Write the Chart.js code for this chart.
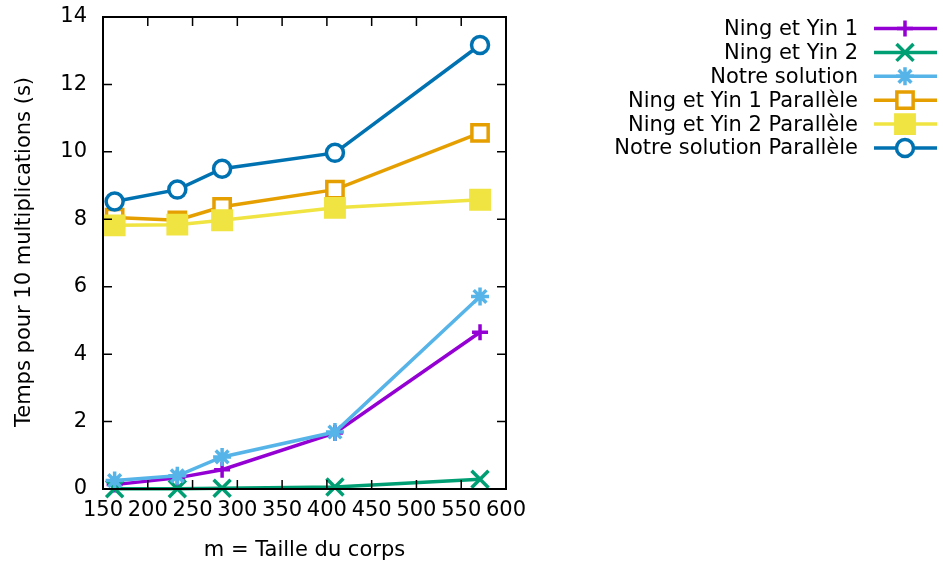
<!DOCTYPE html>
<html>
<head>
<meta charset="utf-8">
<script src="https://cdn.jsdelivr.net/npm/chart.js@4/dist/chart.umd.min.js"></script>
<style>
  html, body { margin: 0; padding: 0; background: #fff; }
  #wrap { width: 943px; height: 561px; position: relative; }
</style>
</head>
<body>
<div id="wrap"><canvas id="chart"></canvas></div>
<script>
// Taille du corps (m)
const fieldSizes = [163, 233, 283, 409, 571];

// Temps pour 10 multiplications (s)
const ningYin1 = [0.13, 0.33, 0.57, 1.66, 4.65];
const ningYin2 = [0.01, 0.01, 0.02, 0.06, 0.29];
const notreSolution = [0.25, 0.39, 0.95, 1.69, 5.71];
const ningYin1Par = [8.05, 7.97, 8.37, 8.88, 10.56];
const ningYin2Par = [7.82, 7.84, 7.97, 8.34, 8.58];
const notreSolutionPar = [8.53, 8.88, 9.50, 9.97, 13.17];

const seriesLabels = [
  'Ning et Yin 1',
  'Ning et Yin 2',
  'Notre solution',
  'Ning et Yin 1 Parallèle',
  'Ning et Yin 2 Parallèle',
  'Notre solution Parallèle'
];

const xTitle = 'm = Taille du corps';
const yTitle = 'Temps pour 10 multiplications (s)';

const FONT = '"DejaVu Sans", sans-serif';
const FS = 21;

const toPoints = (vals) => vals.map((v, i) => ({ x: fieldSizes[i], y: v }));

const makeSet = (i, vals, color, style, radius, fill) => ({
  label: seriesLabels[i],
  data: toPoints(vals),
  borderColor: color,
  backgroundColor: color,
  borderWidth: 3.5,
  pointStyle: style,
  pointRadius: radius,
  pointHoverRadius: radius,
  pointBorderWidth: 3.5,
  pointBackgroundColor: fill,
  pointBorderColor: color,
  tension: 0,
  fill: false,
  clip: false,
  order: 6 - i
});

const datasets = [
  makeSet(0, ningYin1, '#9400d3', 'cross', 8, '#9400d3'),
  makeSet(1, ningYin2, '#009e73', 'crossRot', 12, '#009e73'),
  makeSet(2, notreSolution, '#56b4e9', 'star', 9, '#56b4e9'),
  makeSet(3, ningYin1Par, '#e69f00', 'rect', 11.5, '#ffffff'),
  makeSet(4, ningYin2Par, '#f0e442', 'rect', 13, '#f0e442'),
  makeSet(5, notreSolutionPar, '#0072b2', 'circle', 8.5, '#ffffff')
];

// draw one marker like Chart.js does, for the key
function drawMarker(ctx, ds, x, y) {
  const r = ds.pointRadius;
  ctx.save();
  ctx.lineWidth = ds.pointBorderWidth;
  ctx.strokeStyle = ds.pointBorderColor;
  ctx.fillStyle = ds.pointBackgroundColor;
  ctx.beginPath();
  if (ds.pointStyle === 'circle') {
    ctx.arc(x, y, r, 0, Math.PI * 2);
    ctx.fill(); ctx.stroke();
  } else if (ds.pointStyle === 'rect') {
    const s = r * Math.SQRT1_2;
    ctx.rect(x - s, y - s, 2 * s, 2 * s);
    ctx.fill(); ctx.stroke();
  } else {
    if (ds.pointStyle === 'cross' || ds.pointStyle === 'star') {
      ctx.moveTo(x, y - r); ctx.lineTo(x, y + r);
      ctx.moveTo(x - r, y); ctx.lineTo(x + r, y);
    }
    if (ds.pointStyle === 'crossRot' || ds.pointStyle === 'star') {
      const o = r * Math.SQRT1_2;
      ctx.moveTo(x - o, y - o); ctx.lineTo(x + o, y + o);
      ctx.moveTo(x - o, y + o); ctx.lineTo(x + o, y - o);
    }
    ctx.stroke();
  }
  ctx.restore();
}

// gnuplot style frame, inward ticks, titles and key
const gnuplotFrame = {
  id: 'gnuplotFrame',
  afterDatasetsDraw(chart) {
    const { ctx, chartArea: a, scales } = chart;
    ctx.save();
    ctx.strokeStyle = '#000';
    ctx.lineWidth = 2;
    ctx.strokeRect(a.left, a.top, a.right - a.left, a.bottom - a.top);

    const tl = 9;
    ctx.lineWidth = 1.5;
    ctx.beginPath();
    scales.x.ticks.forEach(t => {
      const px = scales.x.getPixelForValue(t.value);
      ctx.moveTo(px, a.bottom); ctx.lineTo(px, a.bottom - tl);
      ctx.moveTo(px, a.top); ctx.lineTo(px, a.top + tl);
    });
    scales.y.ticks.forEach(t => {
      const py = scales.y.getPixelForValue(t.value);
      ctx.moveTo(a.left, py); ctx.lineTo(a.left + tl, py);
      ctx.moveTo(a.right, py); ctx.lineTo(a.right - tl, py);
    });
    ctx.stroke();

    ctx.fillStyle = '#000';
    ctx.font = FS + 'px ' + FONT;
    ctx.textAlign = 'center';
    ctx.textBaseline = 'alphabetic';
    ctx.fillText(xTitle, (a.left + a.right) / 2, 556);

    ctx.save();
    ctx.translate(30, 252);
    ctx.rotate(-Math.PI / 2);
    ctx.fillText(yTitle, 0, 0);
    ctx.restore();

    // key
    ctx.textAlign = 'right';
    ctx.textBaseline = 'middle';
    chart.data.datasets.forEach((ds, i) => {
      const y = 28.5 + i * 23.9;
      ctx.fillStyle = '#000';
      ctx.fillText(ds.label, 858, y + 1);
      ctx.strokeStyle = ds.borderColor;
      ctx.lineWidth = ds.borderWidth;
      ctx.beginPath();
      ctx.moveTo(874, y); ctx.lineTo(937, y);
      ctx.stroke();
      drawMarker(ctx, ds, 905, y);
    });
    ctx.restore();
  }
};

Chart.defaults.font.family = FONT;
Chart.defaults.font.size = FS;
Chart.defaults.color = '#000';

new Chart(document.getElementById('chart'), {
  type: 'line',
  data: { datasets },
  options: {
    responsive: true,
    maintainAspectRatio: false,
    animation: false,
    layout: { padding: { top: 17, right: 437, left: 0, bottom: 0 } },
    plugins: {
      legend: { display: false },
      tooltip: { enabled: false }
    },
    scales: {
      x: {
        type: 'linear',
        min: 150,
        max: 600,
        ticks: { stepSize: 50, padding: 9, maxRotation: 0 },
        grid: { display: false, drawTicks: false },
        border: { display: false },
        afterFit: (s) => { s.height = 72; s.paddingLeft = 0; s.paddingRight = 0; }
      },
      y: {
        min: 0,
        max: 14,
        ticks: { stepSize: 2, padding: 16 },
        grid: { display: false, drawTicks: false },
        border: { display: false },
        afterFit: (s) => { s.width = 103; s.paddingTop = 0; s.paddingBottom = 0; }
      }
    }
  },
  plugins: [gnuplotFrame]
});
</script>
</body>
</html>
